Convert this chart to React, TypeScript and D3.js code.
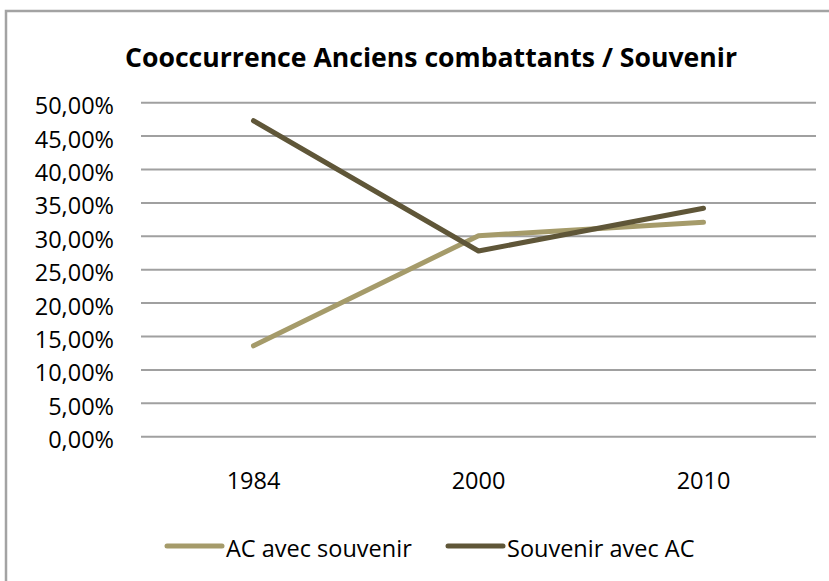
import React from "react";
import * as d3 from "d3";

const categories = ["1984", "2000", "2010"];
const seriesNames = ["AC avec souvenir", "Souvenir avec AC"];
const acAvecSouvenir = [13.6, 30.1, 32.1];
const souvenirAvecAC = [47.3, 27.8, 34.2];
const yTicks = [0, 5, 10, 15, 20, 25, 30, 35, 40, 45, 50];
const colors = ["#A59B6A", "#5F5638"];
const title = "Cooccurrence Anciens combattants / Souvenir";

const W = 829;
const H = 581;
const plot = { left: 141, right: 816, top: 102.7, bottom: 436.7 };
const FONT = "'Open Sans', sans-serif";

export default function App() {
  const x = d3
    .scaleBand<string>()
    .domain(categories)
    .range([plot.left, plot.right])
    .padding(0);
  const y = d3.scaleLinear().domain([0, 50]).range([plot.bottom, plot.top]);
  const cx = (c: string) => (x(c) ?? 0) + x.bandwidth() / 2;
  const fmt = (v: number) => v.toFixed(2).replace(".", ",") + "%";

  const line = d3
    .line<number>()
    .x((_, i) => cx(categories[i]))
    .y((d) => y(d));

  const series = [acAvecSouvenir, souvenirAvecAC];
  const legendX = [167, 448];

  return (
    <svg
      width={W}
      height={H}
      style={{ position: "absolute", left: 0, top: 0, background: "#fff" }}
    >
      <rect x={0} y={0} width={W} height={H} fill="#fff" />
      {/* frame */}
      <path d={`M6,${H + 5} L6,11 L${W + 5},11`} fill="none" stroke="#a3a3a3" strokeWidth={2.5} />
      {/* title */}
      <text
        x={431}
        y={67}
        textAnchor="middle"
        fontFamily={FONT}
        fontWeight="bold"
        fontSize={27.5}
        textLength={612}
        lengthAdjust="spacingAndGlyphs"
        fill="#000"
      >
        {title}
      </text>
      {/* gridlines + y labels */}
      {yTicks.map((t) => (
        <g key={t}>
          <line
            x1={plot.left}
            x2={plot.right}
            y1={y(t)}
            y2={y(t)}
            stroke="#a0a0a0"
            strokeWidth={2}
          />
          <text
            x={114}
            y={y(t) + 11.5}
            textAnchor="end"
            fontFamily={FONT}
            fontSize={23.5}
            fill="#000"
          >
            {fmt(t)}
          </text>
        </g>
      ))}
      {/* x labels */}
      {categories.map((c) => (
        <text
          key={c}
          x={cx(c)}
          y={489}
          textAnchor="middle"
          fontFamily={FONT}
          fontSize={23.5}
          fill="#000"
        >
          {c}
        </text>
      ))}
      {/* lines */}
      {series.map((s, i) => (
        <path
          key={i}
          d={line(s) ?? ""}
          fill="none"
          stroke={colors[i]}
          strokeWidth={5}
          strokeLinecap="round"
          strokeLinejoin="round"
        />
      ))}
      {/* legend */}
      {seriesNames.map((n, i) => (
        <g key={n}>
          <line
            x1={legendX[i]}
            x2={legendX[i] + 55}
            y1={546}
            y2={546}
            stroke={colors[i]}
            strokeWidth={5}
            strokeLinecap="round"
          />
          <text
            x={legendX[i] + 59}
            y={556.5}
            fontFamily={FONT}
            fontSize={23.5}
            fill="#000"
          >
            {n}
          </text>
        </g>
      ))}
    </svg>
  );
}
